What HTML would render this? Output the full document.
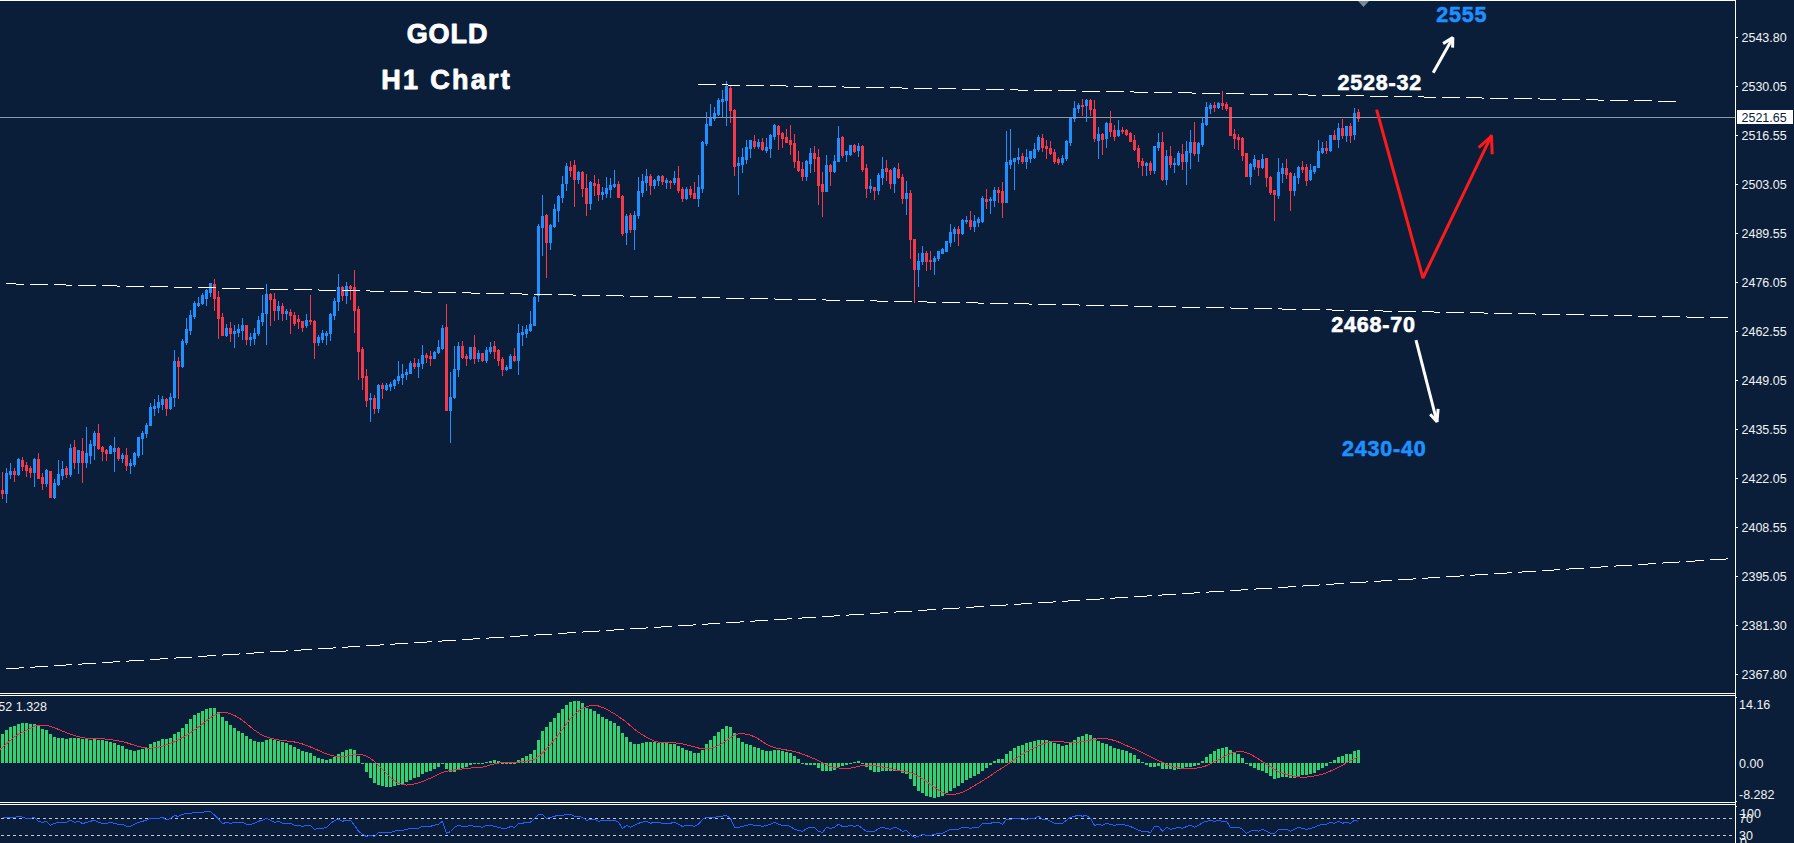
<!DOCTYPE html>
<html><head><meta charset="utf-8"><title>GOLD H1 Chart</title>
<style>
html,body{margin:0;padding:0;background:#0a1e3a;width:1794px;height:843px;overflow:hidden}
svg text{font-family:"Liberation Sans",sans-serif}
</style></head><body>
<svg width="1794" height="843" viewBox="0 0 1794 843" style="display:block">
<rect x="0" y="0" width="1794" height="843" fill="#0a1e3a"/>
<path fill="#1e90ff" d="M6 468h1v5h-1zM6 494h1v9h-1zM5 473h3v21h-3zM10 463h1v8h-1zM10 475h1v4h-1zM9 471h3v4h-3zM18 458h1v1h-1zM18 475h1v1h-1zM17 459h3v16h-3zM34 458h1v1h-1zM34 473h1v14h-1zM33 459h3v14h-3zM46 469h1v1h-1zM46 484h1v3h-1zM45 470h3v14h-3zM54 479h1v4h-1zM54 498h1v1h-1zM53 483h3v15h-3zM58 460h1v14h-1zM58 485h1v1h-1zM57 474h3v11h-3zM62 461h1v8h-1zM62 476h1v4h-1zM61 469h3v7h-3zM70 444h1v4h-1zM70 475h1v2h-1zM69 448h3v27h-3zM78 463h1v11h-1zM77 450h3v13h-3zM86 427h1v26h-1zM86 463h1v5h-1zM85 453h3v10h-3zM90 440h1v4h-1zM90 456h1v8h-1zM89 444h3v12h-3zM94 431h1v2h-1zM94 446h1v14h-1zM93 433h3v13h-3zM110 445h1v1h-1zM109 446h3v8h-3zM114 437h1v11h-1zM114 452h1v20h-1zM113 448h3v4h-3zM122 453h1v2h-1zM122 459h1v4h-1zM121 455h3v4h-3zM130 459h1v4h-1zM130 466h1v8h-1zM129 463h3v3h-3zM134 452h1v1h-1zM134 465h1v2h-1zM133 453h3v12h-3zM138 456h1v2h-1zM137 437h3v19h-3zM142 431h1v2h-1zM142 439h1v16h-1zM141 433h3v6h-3zM146 423h1v2h-1zM146 434h1v4h-1zM145 425h3v9h-3zM150 403h1v4h-1zM149 407h3v19h-3zM154 399h1v7h-1zM154 409h1v7h-1zM153 406h3v3h-3zM158 395h1v7h-1zM158 408h1v5h-1zM157 402h3v6h-3zM162 396h1v3h-1zM162 405h1v5h-1zM161 399h3v6h-3zM170 393h1v4h-1zM170 409h1v1h-1zM169 397h3v12h-3zM174 350h1v11h-1zM174 398h1v9h-1zM173 361h3v37h-3zM182 339h1v2h-1zM182 367h1v1h-1zM181 341h3v26h-3zM186 318h1v11h-1zM186 343h1v2h-1zM185 329h3v14h-3zM190 310h1v5h-1zM190 331h1v4h-1zM189 315h3v16h-3zM194 301h1v2h-1zM194 317h1v2h-1zM193 303h3v14h-3zM198 297h1v6h-1zM198 306h1v1h-1zM197 303h3v3h-3zM202 293h1v2h-1zM202 304h1v1h-1zM201 295h3v9h-3zM206 289h1v1h-1zM206 299h1v7h-1zM205 290h3v9h-3zM210 293h1v4h-1zM209 283h3v10h-3zM226 324h1v4h-1zM226 336h1v1h-1zM225 328h3v8h-3zM234 325h1v6h-1zM234 334h1v14h-1zM233 331h3v3h-3zM238 324h1v5h-1zM238 333h1v4h-1zM237 329h3v4h-3zM242 318h1v7h-1zM242 331h1v9h-1zM241 325h3v6h-3zM250 333h1v4h-1zM250 340h1v6h-1zM249 337h3v3h-3zM254 328h1v5h-1zM254 339h1v6h-1zM253 333h3v6h-3zM258 316h1v4h-1zM258 334h1v2h-1zM257 320h3v14h-3zM262 295h1v18h-1zM262 322h1v4h-1zM261 313h3v9h-3zM266 284h1v10h-1zM266 314h1v31h-1zM265 294h3v20h-3zM278 301h1v5h-1zM278 311h1v9h-1zM277 306h3v5h-3zM286 309h1v2h-1zM286 314h1v6h-1zM285 311h3v3h-3zM306 314h1v6h-1zM306 326h1v2h-1zM305 320h3v6h-3zM318 335h1v2h-1zM318 343h1v3h-1zM317 337h3v6h-3zM322 330h1v3h-1zM322 340h1v3h-1zM321 333h3v7h-3zM326 331h1v2h-1zM326 336h1v9h-1zM325 333h3v3h-3zM330 313h1v1h-1zM330 334h1v7h-1zM329 314h3v20h-3zM334 298h1v3h-1zM334 316h1v4h-1zM333 301h3v15h-3zM338 274h1v13h-1zM338 302h1v9h-1zM337 287h3v15h-3zM346 282h1v4h-1zM346 296h1v8h-1zM345 286h3v10h-3zM370 393h1v5h-1zM370 400h1v22h-1zM369 398h3v2h-3zM378 384h1v1h-1zM378 409h1v4h-1zM377 385h3v24h-3zM386 383h1v2h-1zM386 390h1v1h-1zM385 385h3v5h-3zM390 382h1v2h-1zM390 387h1v4h-1zM389 384h3v3h-3zM394 379h1v1h-1zM394 386h1v3h-1zM393 380h3v6h-3zM398 361h1v15h-1zM398 381h1v3h-1zM397 376h3v5h-3zM402 364h1v10h-1zM402 378h1v7h-1zM401 374h3v4h-3zM406 369h1v3h-1zM406 375h1v5h-1zM405 372h3v3h-3zM410 361h1v2h-1zM409 363h3v11h-3zM418 359h1v4h-1zM418 367h1v11h-1zM417 363h3v4h-3zM422 345h1v10h-1zM422 364h1v5h-1zM421 355h3v9h-3zM434 351h1v1h-1zM433 352h3v7h-3zM438 340h1v7h-1zM438 353h1v1h-1zM437 347h3v6h-3zM442 325h1v3h-1zM442 349h1v1h-1zM441 328h3v21h-3zM450 372h1v25h-1zM450 411h1v32h-1zM449 397h3v14h-3zM454 346h1v23h-1zM454 398h1v1h-1zM453 369h3v29h-3zM458 342h1v4h-1zM458 370h1v7h-1zM457 346h3v24h-3zM470 359h1v1h-1zM469 347h3v12h-3zM478 350h1v3h-1zM478 359h1v3h-1zM477 353h3v6h-3zM486 347h1v3h-1zM486 361h1v2h-1zM485 350h3v11h-3zM490 342h1v5h-1zM490 352h1v2h-1zM489 347h3v5h-3zM506 365h1v2h-1zM506 370h1v1h-1zM505 367h3v3h-3zM510 354h1v2h-1zM509 356h3v13h-3zM518 324h1v9h-1zM518 361h1v14h-1zM517 333h3v28h-3zM522 326h1v6h-1zM522 335h1v11h-1zM521 332h3v3h-3zM526 325h1v4h-1zM526 334h1v4h-1zM525 329h3v5h-3zM530 311h1v13h-1zM530 331h1v1h-1zM529 324h3v7h-3zM534 296h1v1h-1zM533 297h3v29h-3zM538 224h1v2h-1zM538 296h1v6h-1zM537 226h3v70h-3zM542 195h1v21h-1zM542 228h1v28h-1zM541 216h3v12h-3zM550 224h1v1h-1zM550 243h1v7h-1zM549 225h3v18h-3zM554 204h1v5h-1zM554 227h1v1h-1zM553 209h3v18h-3zM558 195h1v1h-1zM558 211h1v11h-1zM557 196h3v15h-3zM562 176h1v8h-1zM562 198h1v5h-1zM561 184h3v14h-3zM566 163h1v3h-1zM566 184h1v7h-1zM565 166h3v18h-3zM578 171h1v1h-1zM578 180h1v4h-1zM577 172h3v8h-3zM590 181h1v1h-1zM590 204h1v6h-1zM589 182h3v22h-3zM602 187h1v5h-1zM602 195h1v5h-1zM601 192h3v3h-3zM606 177h1v11h-1zM606 194h1v4h-1zM605 188h3v6h-3zM610 178h1v7h-1zM610 190h1v8h-1zM609 185h3v5h-3zM614 170h1v14h-1zM614 187h1v1h-1zM613 184h3v3h-3zM626 214h1v2h-1zM626 233h1v12h-1zM625 216h3v17h-3zM634 211h1v4h-1zM634 230h1v20h-1zM633 215h3v15h-3zM638 177h1v14h-1zM638 216h1v3h-1zM637 191h3v25h-3zM642 174h1v7h-1zM642 193h1v4h-1zM641 181h3v12h-3zM646 169h1v7h-1zM646 183h1v8h-1zM645 176h3v7h-3zM654 179h1v1h-1zM654 186h1v3h-1zM653 180h3v6h-3zM658 175h1v1h-1zM658 181h1v5h-1zM657 176h3v5h-3zM666 178h1v2h-1zM666 183h1v6h-1zM665 180h3v3h-3zM674 171h1v7h-1zM674 183h1v2h-1zM673 178h3v5h-3zM686 187h1v2h-1zM686 199h1v1h-1zM685 189h3v10h-3zM698 175h1v12h-1zM698 199h1v8h-1zM697 187h3v12h-3zM702 141h1v1h-1zM702 189h1v4h-1zM701 142h3v47h-3zM706 112h1v12h-1zM706 144h1v2h-1zM705 124h3v20h-3zM710 104h1v13h-1zM709 117h3v9h-3zM714 107h1v6h-1zM714 119h1v2h-1zM713 113h3v6h-3zM718 98h1v2h-1zM718 115h1v1h-1zM717 100h3v15h-3zM722 90h1v9h-1zM722 102h1v16h-1zM721 99h3v3h-3zM726 81h1v5h-1zM726 101h1v25h-1zM725 86h3v15h-3zM738 157h1v6h-1zM738 166h1v29h-1zM737 163h3v3h-3zM742 148h1v9h-1zM742 165h1v8h-1zM741 157h3v8h-3zM746 140h1v7h-1zM746 160h1v4h-1zM745 147h3v13h-3zM750 149h1v9h-1zM749 140h3v9h-3zM758 139h1v3h-1zM758 147h1v2h-1zM757 142h3v5h-3zM766 138h1v9h-1zM766 151h1v2h-1zM765 147h3v4h-3zM770 134h1v1h-1zM770 149h1v9h-1zM769 135h3v14h-3zM774 124h1v1h-1zM774 137h1v3h-1zM773 125h3v12h-3zM806 160h1v1h-1zM806 177h1v4h-1zM805 161h3v16h-3zM810 148h1v5h-1zM810 164h1v9h-1zM809 153h3v11h-3zM826 155h1v10h-1zM825 165h3v27h-3zM834 155h1v6h-1zM834 172h1v1h-1zM833 161h3v11h-3zM838 126h1v12h-1zM837 138h3v24h-3zM846 155h1v7h-1zM845 151h3v4h-3zM850 155h1v1h-1zM849 145h3v10h-3zM858 143h1v3h-1zM858 151h1v6h-1zM857 146h3v5h-3zM870 179h1v7h-1zM870 189h1v4h-1zM869 186h3v3h-3zM878 173h1v2h-1zM878 191h1v4h-1zM877 175h3v16h-3zM882 157h1v12h-1zM882 178h1v7h-1zM881 169h3v9h-3zM894 167h1v1h-1zM894 184h1v9h-1zM893 168h3v16h-3zM906 181h1v12h-1zM906 199h1v16h-1zM905 193h3v6h-3zM918 253h1v8h-1zM918 270h1v17h-1zM917 261h3v9h-3zM922 246h1v7h-1zM922 262h1v3h-1zM921 253h3v9h-3zM934 256h1v2h-1zM934 262h1v13h-1zM933 258h3v4h-3zM938 259h1v2h-1zM937 251h3v8h-3zM942 248h1v1h-1zM941 249h3v5h-3zM945 241h3v11h-3zM950 224h1v8h-1zM950 243h1v4h-1zM949 232h3v11h-3zM954 227h1v2h-1zM954 234h1v8h-1zM953 229h3v5h-3zM962 219h1v1h-1zM962 234h1v1h-1zM961 220h3v14h-3zM966 216h1v4h-1zM966 222h1v2h-1zM965 220h3v2h-3zM974 215h1v6h-1zM974 227h1v5h-1zM973 221h3v6h-3zM978 217h1v2h-1zM978 223h1v4h-1zM977 219h3v4h-3zM982 196h1v2h-1zM982 222h1v1h-1zM981 198h3v24h-3zM990 197h1v2h-1zM990 201h1v13h-1zM989 199h3v2h-3zM994 187h1v3h-1zM994 201h1v6h-1zM993 190h3v11h-3zM1006 131h1v31h-1zM1005 162h3v41h-3zM1010 129h1v31h-1zM1010 165h1v4h-1zM1009 160h3v5h-3zM1014 162h1v28h-1zM1013 158h3v4h-3zM1018 148h1v9h-1zM1018 160h1v4h-1zM1017 157h3v3h-3zM1026 149h1v8h-1zM1026 162h1v7h-1zM1025 157h3v5h-3zM1030 159h1v4h-1zM1029 151h3v8h-3zM1034 143h1v6h-1zM1034 158h1v1h-1zM1033 149h3v9h-3zM1038 135h1v2h-1zM1038 150h1v2h-1zM1037 137h3v13h-3zM1062 155h1v3h-1zM1062 163h1v2h-1zM1061 158h3v5h-3zM1066 140h1v1h-1zM1066 159h1v2h-1zM1065 141h3v18h-3zM1070 117h1v1h-1zM1070 143h1v3h-1zM1069 118h3v25h-3zM1074 101h1v7h-1zM1074 119h1v3h-1zM1073 108h3v11h-3zM1078 103h1v2h-1zM1078 109h1v4h-1zM1077 105h3v4h-3zM1086 99h1v1h-1zM1086 106h1v16h-1zM1085 100h3v6h-3zM1098 127h1v7h-1zM1098 141h1v18h-1zM1097 134h3v7h-3zM1106 122h1v1h-1zM1106 139h1v9h-1zM1105 123h3v16h-3zM1118 120h1v10h-1zM1118 136h1v1h-1zM1117 130h3v6h-3zM1146 162h1v1h-1zM1146 166h1v10h-1zM1145 163h3v3h-3zM1154 171h1v3h-1zM1153 146h3v25h-3zM1158 133h1v9h-1zM1158 148h1v3h-1zM1157 142h3v6h-3zM1166 150h1v6h-1zM1166 180h1v5h-1zM1165 156h3v24h-3zM1174 158h1v5h-1zM1174 165h1v8h-1zM1173 163h3v2h-3zM1178 151h1v2h-1zM1178 165h1v1h-1zM1177 153h3v12h-3zM1186 141h1v10h-1zM1186 162h1v23h-1zM1185 151h3v11h-3zM1190 130h1v12h-1zM1190 153h1v16h-1zM1189 142h3v11h-3zM1198 142h1v1h-1zM1198 154h1v8h-1zM1197 143h3v11h-3zM1202 117h1v6h-1zM1202 145h1v2h-1zM1201 123h3v22h-3zM1206 102h1v5h-1zM1206 125h1v1h-1zM1205 107h3v18h-3zM1210 103h1v2h-1zM1210 109h1v5h-1zM1209 105h3v4h-3zM1218 102h1v1h-1zM1218 108h1v1h-1zM1217 103h3v5h-3zM1250 163h1v1h-1zM1250 177h1v8h-1zM1249 164h3v13h-3zM1254 155h1v4h-1zM1254 167h1v3h-1zM1253 159h3v8h-3zM1262 154h1v5h-1zM1262 168h1v1h-1zM1261 159h3v9h-3zM1278 158h1v14h-1zM1278 196h1v3h-1zM1277 172h3v24h-3zM1282 163h1v5h-1zM1282 174h1v9h-1zM1281 168h3v6h-3zM1294 173h1v3h-1zM1294 191h1v5h-1zM1293 176h3v15h-3zM1298 166h1v1h-1zM1298 178h1v6h-1zM1297 167h3v11h-3zM1310 164h1v6h-1zM1310 180h1v1h-1zM1309 170h3v10h-3zM1314 172h1v2h-1zM1313 166h3v6h-3zM1318 140h1v11h-1zM1317 151h3v17h-3zM1322 142h1v6h-1zM1322 153h1v1h-1zM1321 148h3v5h-3zM1330 151h1v1h-1zM1329 135h3v16h-3zM1338 123h1v5h-1zM1338 140h1v8h-1zM1337 128h3v12h-3zM1346 136h1v6h-1zM1345 126h3v10h-3zM1354 108h1v5h-1zM1354 135h1v5h-1zM1353 113h3v22h-3z"/>
<path fill="#f43a4a" d="M2 472h1v18h-1zM2 494h1v5h-1zM1 490h3v4h-3zM14 468h1v3h-1zM14 475h1v7h-1zM13 471h3v4h-3zM22 457h1v3h-1zM22 467h1v4h-1zM21 460h3v7h-3zM26 462h1v3h-1zM26 471h1v6h-1zM25 465h3v6h-3zM30 466h1v2h-1zM30 473h1v5h-1zM29 468h3v5h-3zM38 453h1v6h-1zM37 459h3v20h-3zM42 473h1v4h-1zM42 484h1v6h-1zM41 477h3v7h-3zM49 471h3v27h-3zM66 466h1v2h-1zM66 475h1v3h-1zM65 468h3v7h-3zM74 440h1v7h-1zM74 463h1v6h-1zM73 447h3v16h-3zM82 438h1v13h-1zM82 463h1v20h-1zM81 451h3v12h-3zM98 424h1v9h-1zM98 449h1v1h-1zM97 433h3v16h-3zM102 446h1v1h-1zM102 452h1v9h-1zM101 447h3v5h-3zM106 449h1v1h-1zM106 454h1v7h-1zM105 450h3v4h-3zM118 447h1v1h-1zM118 459h1v2h-1zM117 448h3v11h-3zM126 448h1v7h-1zM126 466h1v5h-1zM125 455h3v11h-3zM166 398h1v1h-1zM166 409h1v7h-1zM165 399h3v10h-3zM178 357h1v4h-1zM178 367h1v32h-1zM177 361h3v6h-3zM214 279h1v5h-1zM214 299h1v12h-1zM213 284h3v15h-3zM218 291h1v6h-1zM218 319h1v20h-1zM217 297h3v22h-3zM222 313h1v4h-1zM221 317h3v19h-3zM230 322h1v6h-1zM230 334h1v8h-1zM229 328h3v6h-3zM246 340h1v5h-1zM245 325h3v15h-3zM270 293h1v1h-1zM270 300h1v26h-1zM269 294h3v6h-3zM274 293h1v6h-1zM274 311h1v10h-1zM273 299h3v12h-3zM282 303h1v3h-1zM282 314h1v7h-1zM281 306h3v8h-3zM290 309h1v3h-1zM290 316h1v18h-1zM289 312h3v4h-3zM294 312h1v3h-1zM294 324h1v2h-1zM293 315h3v9h-3zM298 315h1v4h-1zM298 322h1v7h-1zM297 319h3v3h-3zM302 328h1v4h-1zM301 321h3v7h-3zM310 295h1v25h-1zM310 322h1v3h-1zM309 320h3v2h-3zM314 320h1v1h-1zM314 343h1v16h-1zM313 321h3v22h-3zM342 286h1v1h-1zM342 296h1v5h-1zM341 287h3v9h-3zM350 285h1v1h-1zM350 289h1v11h-1zM349 286h3v3h-3zM354 270h1v17h-1zM354 311h1v22h-1zM353 287h3v24h-3zM358 306h1v3h-1zM358 352h1v28h-1zM357 309h3v43h-3zM362 347h1v2h-1zM362 378h1v12h-1zM361 349h3v29h-3zM366 369h1v7h-1zM366 401h1v6h-1zM365 376h3v25h-3zM374 395h1v3h-1zM374 409h1v5h-1zM373 398h3v11h-3zM382 383h1v2h-1zM382 389h1v10h-1zM381 385h3v4h-3zM414 358h1v5h-1zM414 367h1v2h-1zM413 363h3v4h-3zM426 353h1v2h-1zM426 358h1v5h-1zM425 355h3v3h-3zM430 351h1v5h-1zM430 359h1v7h-1zM429 356h3v3h-3zM446 304h1v23h-1zM445 327h3v84h-3zM462 341h1v5h-1zM462 358h1v1h-1zM461 346h3v12h-3zM466 354h1v2h-1zM466 359h1v7h-1zM465 356h3v3h-3zM474 335h1v12h-1zM474 359h1v5h-1zM473 347h3v12h-3zM482 361h1v1h-1zM481 353h3v8h-3zM494 341h1v5h-1zM494 352h1v7h-1zM493 346h3v6h-3zM498 349h1v1h-1zM498 361h1v5h-1zM497 350h3v11h-3zM502 357h1v2h-1zM502 370h1v6h-1zM501 359h3v11h-3zM514 348h1v8h-1zM514 361h1v1h-1zM513 356h3v5h-3zM546 214h1v1h-1zM546 243h1v35h-1zM545 215h3v28h-3zM570 161h1v6h-1zM570 171h1v6h-1zM569 167h3v4h-3zM574 160h1v5h-1zM574 180h1v27h-1zM573 165h3v15h-3zM582 171h1v1h-1zM582 189h1v8h-1zM581 172h3v17h-3zM586 174h1v14h-1zM586 204h1v12h-1zM585 188h3v16h-3zM594 175h1v8h-1zM594 186h1v10h-1zM593 183h3v3h-3zM598 179h1v5h-1zM598 195h1v6h-1zM597 184h3v11h-3zM618 181h1v3h-1zM617 184h3v14h-3zM622 195h1v1h-1zM622 234h1v2h-1zM621 196h3v38h-3zM630 213h1v2h-1zM630 230h1v3h-1zM629 215h3v15h-3zM650 174h1v2h-1zM650 186h1v9h-1zM649 176h3v10h-3zM662 175h1v1h-1zM662 182h1v3h-1zM661 176h3v6h-3zM670 180h1v1h-1zM670 183h1v6h-1zM669 181h3v2h-3zM678 166h1v12h-1zM678 191h1v2h-1zM677 178h3v13h-3zM682 187h1v2h-1zM682 199h1v3h-1zM681 189h3v10h-3zM690 186h1v3h-1zM690 195h1v3h-1zM689 189h3v6h-3zM694 182h1v11h-1zM693 193h3v6h-3zM730 86h1v2h-1zM730 111h1v12h-1zM729 88h3v23h-3zM734 109h1v1h-1zM734 167h1v9h-1zM733 110h3v57h-3zM754 135h1v6h-1zM754 147h1v2h-1zM753 141h3v6h-3zM762 138h1v4h-1zM762 150h1v1h-1zM761 142h3v8h-3zM778 125h1v1h-1zM778 135h1v15h-1zM777 126h3v9h-3zM782 132h1v1h-1zM782 139h1v9h-1zM781 133h3v6h-3zM786 129h1v8h-1zM785 137h3v6h-3zM790 125h1v15h-1zM790 145h1v10h-1zM789 140h3v5h-3zM794 134h1v9h-1zM794 162h1v6h-1zM793 143h3v19h-3zM798 151h1v10h-1zM798 171h1v1h-1zM797 161h3v10h-3zM802 162h1v7h-1zM802 177h1v4h-1zM801 169h3v8h-3zM814 146h1v7h-1zM814 159h1v13h-1zM813 153h3v6h-3zM818 149h1v8h-1zM818 186h1v19h-1zM817 157h3v29h-3zM822 172h1v12h-1zM822 192h1v25h-1zM821 184h3v8h-3zM830 164h1v1h-1zM830 172h1v14h-1zM829 165h3v7h-3zM842 136h1v1h-1zM842 156h1v2h-1zM841 137h3v19h-3zM854 144h1v1h-1zM854 152h1v1h-1zM853 145h3v7h-3zM862 145h1v1h-1zM862 170h1v2h-1zM861 146h3v24h-3zM866 164h1v4h-1zM866 189h1v9h-1zM865 168h3v21h-3zM874 191h1v9h-1zM873 187h3v4h-3zM886 160h1v8h-1zM886 172h1v9h-1zM885 168h3v4h-3zM890 169h1v1h-1zM890 184h1v5h-1zM889 170h3v14h-3zM898 163h1v6h-1zM898 178h1v1h-1zM897 169h3v9h-3zM902 174h1v3h-1zM902 199h1v5h-1zM901 177h3v22h-3zM910 190h1v3h-1zM910 240h1v19h-1zM909 193h3v47h-3zM914 270h1v33h-1zM913 239h3v31h-3zM926 251h1v2h-1zM926 262h1v9h-1zM925 253h3v9h-3zM930 251h1v9h-1zM930 262h1v8h-1zM929 260h3v2h-3zM958 226h1v3h-1zM958 234h1v12h-1zM957 229h3v5h-3zM970 211h1v9h-1zM970 227h1v3h-1zM969 220h3v7h-3zM986 189h1v10h-1zM986 202h1v7h-1zM985 199h3v3h-3zM998 187h1v3h-1zM998 193h1v10h-1zM997 190h3v3h-3zM1002 182h1v9h-1zM1002 203h1v15h-1zM1001 191h3v12h-3zM1022 153h1v3h-1zM1022 162h1v2h-1zM1021 156h3v6h-3zM1042 134h1v4h-1zM1042 148h1v4h-1zM1041 138h3v10h-3zM1046 140h1v6h-1zM1046 149h1v10h-1zM1045 146h3v3h-3zM1050 141h1v7h-1zM1050 154h1v1h-1zM1049 148h3v6h-3zM1054 149h1v3h-1zM1054 162h1v2h-1zM1053 152h3v10h-3zM1058 157h1v2h-1zM1058 163h1v2h-1zM1057 159h3v4h-3zM1082 99h1v6h-1zM1082 107h1v9h-1zM1081 105h3v2h-3zM1090 99h1v1h-1zM1090 110h1v6h-1zM1089 100h3v10h-3zM1094 100h1v9h-1zM1094 139h1v3h-1zM1093 109h3v30h-3zM1102 133h1v1h-1zM1102 140h1v15h-1zM1101 134h3v6h-3zM1110 111h1v12h-1zM1110 132h1v5h-1zM1109 123h3v9h-3zM1114 125h1v5h-1zM1114 137h1v4h-1zM1113 130h3v7h-3zM1122 127h1v3h-1zM1122 132h1v2h-1zM1121 130h3v2h-3zM1126 129h1v1h-1zM1126 135h1v1h-1zM1125 130h3v5h-3zM1130 132h1v1h-1zM1129 133h3v9h-3zM1134 135h1v5h-1zM1134 150h1v1h-1zM1133 140h3v10h-3zM1138 145h1v3h-1zM1138 162h1v6h-1zM1137 148h3v14h-3zM1142 158h1v3h-1zM1142 166h1v10h-1zM1141 161h3v5h-3zM1150 161h1v2h-1zM1150 171h1v4h-1zM1149 163h3v8h-3zM1162 132h1v10h-1zM1162 180h1v1h-1zM1161 142h3v38h-3zM1170 146h1v10h-1zM1170 165h1v3h-1zM1169 156h3v9h-3zM1182 144h1v10h-1zM1182 162h1v8h-1zM1181 154h3v8h-3zM1194 122h1v20h-1zM1194 154h1v2h-1zM1193 142h3v12h-3zM1214 102h1v3h-1zM1214 108h1v4h-1zM1213 105h3v3h-3zM1222 91h1v12h-1zM1222 106h1v4h-1zM1221 103h3v3h-3zM1226 102h1v2h-1zM1226 109h1v2h-1zM1225 104h3v5h-3zM1229 107h3v29h-3zM1234 129h1v5h-1zM1234 139h1v10h-1zM1233 134h3v5h-3zM1238 134h1v3h-1zM1238 140h1v10h-1zM1237 137h3v3h-3zM1242 137h1v1h-1zM1242 156h1v5h-1zM1241 138h3v18h-3zM1245 153h3v24h-3zM1258 168h1v8h-1zM1257 160h3v8h-3zM1266 178h1v9h-1zM1265 158h3v20h-3zM1270 176h1v1h-1zM1270 193h1v2h-1zM1269 177h3v16h-3zM1274 195h1v26h-1zM1273 190h3v5h-3zM1286 159h1v9h-1zM1286 175h1v4h-1zM1285 168h3v7h-3zM1290 172h1v1h-1zM1290 191h1v20h-1zM1289 173h3v18h-3zM1302 161h1v6h-1zM1302 170h1v3h-1zM1301 167h3v3h-3zM1306 164h1v3h-1zM1306 181h1v5h-1zM1305 167h3v14h-3zM1326 141h1v7h-1zM1326 151h1v3h-1zM1325 148h3v3h-3zM1334 130h1v5h-1zM1333 135h3v5h-3zM1342 119h1v9h-1zM1342 136h1v3h-1zM1341 128h3v8h-3zM1350 123h1v3h-1zM1350 136h1v7h-1zM1349 126h3v10h-3zM1358 109h1v3h-1zM1358 119h1v3h-1zM1357 112h3v7h-3z"/>
<g fill="#ffffff" shape-rendering="crispEdges">
<rect x="0" y="0" width="1735" height="1"/>
<rect x="1735" y="0" width="1" height="843"/>
<rect x="0" y="693" width="1735" height="1"/>
<rect x="0" y="695" width="1735" height="1"/>
<rect x="0" y="802" width="1735" height="1"/>
<rect x="0" y="804" width="1735" height="1"/>
<rect x="1736" y="37" width="2" height="1"/>
<rect x="1736" y="86" width="2" height="1"/>
<rect x="1736" y="135" width="2" height="1"/>
<rect x="1736" y="184" width="2" height="1"/>
<rect x="1736" y="233" width="2" height="1"/>
<rect x="1736" y="282" width="2" height="1"/>
<rect x="1736" y="331" width="2" height="1"/>
<rect x="1736" y="380" width="2" height="1"/>
<rect x="1736" y="429" width="2" height="1"/>
<rect x="1736" y="478" width="2" height="1"/>
<rect x="1736" y="527" width="2" height="1"/>
<rect x="1736" y="576" width="2" height="1"/>
<rect x="1736" y="625" width="2" height="1"/>
<rect x="1736" y="674" width="2" height="1"/>
<rect x="1736" y="697" width="1" height="1"/>
<rect x="1736" y="801" width="1" height="1"/>
<rect x="1736" y="806" width="1" height="1"/>
</g>
<rect x="0" y="117" width="1735" height="1" fill="#8d9aab" shape-rendering="crispEdges"/>
<path d="M1358 1 L1369 1 L1363.5 7 Z" fill="#7a8899"/>
<path fill="#ffffff" shape-rendering="crispEdges" d="M698 84h18v1h-18zM722 84h6v1h-6zM728 85h12v1h-12zM746 85h18v1h-18zM770 85h16v1h-16zM786 86h2v1h-2zM794 86h18v1h-18zM818 86h18v1h-18zM842 86h2v1h-2zM844 87h16v1h-16zM866 87h18v1h-18zM890 87h12v1h-12zM902 88h6v1h-6zM914 88h18v1h-18zM938 88h18v1h-18zM962 89h18v1h-18zM986 89h18v1h-18zM1010 89h8v1h-8zM1018 90h10v1h-10zM1034 90h18v1h-18zM1058 90h18v1h-18zM1082 91h18v1h-18zM1106 91h18v1h-18zM1130 91h4v1h-4zM1134 92h14v1h-14zM1154 92h18v1h-18zM1178 92h14v1h-14zM1192 93h4v1h-4zM1202 93h18v1h-18zM1226 93h18v1h-18zM1250 94h18v1h-18zM1274 94h18v1h-18zM1298 94h10v1h-10zM1308 95h8v1h-8zM1322 95h18v1h-18zM1346 95h18v1h-18zM1370 96h18v1h-18zM1394 96h18v1h-18zM1418 96h6v1h-6zM1424 97h12v1h-12zM1442 97h18v1h-18zM1466 97h16v1h-16zM1482 98h2v1h-2zM1490 98h18v1h-18zM1514 98h18v1h-18zM1538 98h2v1h-2zM1540 99h16v1h-16zM1562 99h18v1h-18zM1586 99h12v1h-12zM1598 100h6v1h-6zM1610 100h18v1h-18zM1634 100h18v1h-18zM1658 101h18v1h-18zM6 283h10v1h-10zM16 284h8v1h-8zM30 284h18v1h-18zM54 284h12v1h-12zM66 285h6v1h-6zM78 285h18v1h-18zM102 285h15v1h-15zM117 286h3v1h-3zM126 286h18v1h-18zM150 286h18v1h-18zM174 287h18v1h-18zM198 287h18v1h-18zM222 288h18v1h-18zM246 288h18v1h-18zM270 289h18v1h-18zM294 289h18v1h-18zM318 289h1v1h-1zM319 290h17v1h-17zM342 290h18v1h-18zM366 290h4v1h-4zM370 291h14v1h-14zM390 291h18v1h-18zM414 291h7v1h-7zM421 292h11v1h-11zM438 292h18v1h-18zM462 292h9v1h-9zM471 293h9v1h-9zM486 293h18v1h-18zM510 293h12v1h-12zM522 294h6v1h-6zM534 294h18v1h-18zM558 294h15v1h-15zM573 295h3v1h-3zM582 295h18v1h-18zM606 295h17v1h-17zM623 296h1v1h-1zM630 296h18v1h-18zM654 296h18v1h-18zM678 297h18v1h-18zM702 297h18v1h-18zM726 298h18v1h-18zM750 298h18v1h-18zM774 298h1v1h-1zM775 299h17v1h-17zM798 299h18v1h-18zM822 299h4v1h-4zM826 300h14v1h-14zM846 300h18v1h-18zM870 300h7v1h-7zM877 301h11v1h-11zM894 301h18v1h-18zM918 301h9v1h-9zM927 302h9v1h-9zM942 302h18v1h-18zM966 302h12v1h-12zM978 303h6v1h-6zM990 303h18v1h-18zM1014 303h15v1h-15zM1029 304h3v1h-3zM1038 304h18v1h-18zM1062 304h17v1h-17zM1079 305h1v1h-1zM1086 305h18v1h-18zM1110 305h18v1h-18zM1134 306h18v1h-18zM1158 306h18v1h-18zM1182 307h18v1h-18zM1206 307h18v1h-18zM1230 307h1v1h-1zM1231 308h17v1h-17zM1254 308h18v1h-18zM1278 308h4v1h-4zM1282 309h14v1h-14zM1302 309h18v1h-18zM1326 309h6v1h-6zM1332 310h12v1h-12zM1350 310h18v1h-18zM1374 310h9v1h-9zM1383 311h9v1h-9zM1398 311h18v1h-18zM1422 311h12v1h-12zM1434 312h6v1h-6zM1446 312h18v1h-18zM1470 312h14v1h-14zM1484 313h4v1h-4zM1494 313h18v1h-18zM1518 313h17v1h-17zM1535 314h1v1h-1zM1542 314h18v1h-18zM1566 314h18v1h-18zM1590 315h18v1h-18zM1614 315h18v1h-18zM1638 316h18v1h-18zM1662 316h18v1h-18zM1686 316h1v1h-1zM1687 317h17v1h-17zM1710 317h18v1h-18zM6 668h13v1h-13zM19 667h5v1h-5zM30 667h5v1h-5zM35 666h13v1h-13zM54 665h12v1h-12zM66 664h6v1h-6zM78 664h4v1h-4zM82 663h14v1h-14zM102 662h11v1h-11zM113 661h7v1h-7zM126 661h3v1h-3zM129 660h15v1h-15zM150 659h10v1h-10zM160 658h8v1h-8zM174 658h2v1h-2zM176 657h16v1h-16zM198 656h9v1h-9zM207 655h9v1h-9zM222 655h1v1h-1zM223 654h16v1h-16zM239 653h1v1h-1zM246 653h8v1h-8zM254 652h10v1h-10zM270 651h16v1h-16zM286 650h2v1h-2zM294 650h7v1h-7zM301 649h11v1h-11zM318 648h15v1h-15zM333 647h3v1h-3zM342 647h6v1h-6zM348 646h12v1h-12zM366 645h14v1h-14zM380 644h4v1h-4zM390 644h5v1h-5zM395 643h13v1h-13zM414 642h13v1h-13zM427 641h5v1h-5zM438 641h4v1h-4zM442 640h14v1h-14zM462 639h11v1h-11zM473 638h7v1h-7zM486 638h3v1h-3zM489 637h15v1h-15zM510 636h10v1h-10zM520 635h8v1h-8zM534 635h2v1h-2zM536 634h16v1h-16zM558 633h9v1h-9zM567 632h9v1h-9zM582 632h1v1h-1zM583 631h16v1h-16zM599 630h1v1h-1zM606 630h8v1h-8zM614 629h10v1h-10zM630 628h16v1h-16zM646 627h2v1h-2zM654 627h7v1h-7zM661 626h11v1h-11zM678 625h15v1h-15zM693 624h3v1h-3zM702 624h6v1h-6zM708 623h12v1h-12zM726 622h14v1h-14zM740 621h4v1h-4zM750 621h5v1h-5zM755 620h13v1h-13zM774 619h13v1h-13zM787 618h5v1h-5zM798 618h4v1h-4zM802 617h14v1h-14zM822 616h12v1h-12zM834 615h6v1h-6zM846 615h3v1h-3zM849 614h15v1h-15zM870 613h10v1h-10zM880 612h8v1h-8zM894 612h2v1h-2zM896 611h16v1h-16zM918 610h9v1h-9zM927 609h9v1h-9zM942 609h1v1h-1zM943 608h16v1h-16zM959 607h1v1h-1zM966 607h8v1h-8zM974 606h10v1h-10zM990 605h16v1h-16zM1006 604h2v1h-2zM1014 604h7v1h-7zM1021 603h11v1h-11zM1038 602h15v1h-15zM1053 601h3v1h-3zM1062 601h6v1h-6zM1068 600h12v1h-12zM1086 599h14v1h-14zM1100 598h4v1h-4zM1110 598h5v1h-5zM1115 597h13v1h-13zM1134 596h13v1h-13zM1147 595h5v1h-5zM1158 595h4v1h-4zM1162 594h14v1h-14zM1182 593h12v1h-12zM1194 592h6v1h-6zM1206 592h3v1h-3zM1209 591h15v1h-15zM1230 590h11v1h-11zM1241 589h7v1h-7zM1254 589h2v1h-2zM1256 588h16v1h-16zM1278 587h10v1h-10zM1288 586h8v1h-8zM1302 586h1v1h-1zM1303 585h16v1h-16zM1319 584h1v1h-1zM1326 584h8v1h-8zM1334 583h10v1h-10zM1350 582h16v1h-16zM1366 581h2v1h-2zM1374 581h7v1h-7zM1381 580h11v1h-11zM1398 579h15v1h-15zM1413 578h3v1h-3zM1422 578h6v1h-6zM1428 577h12v1h-12zM1446 576h14v1h-14zM1460 575h4v1h-4zM1470 575h5v1h-5zM1475 574h13v1h-13zM1494 573h13v1h-13zM1507 572h5v1h-5zM1518 572h4v1h-4zM1522 571h14v1h-14zM1542 570h12v1h-12zM1554 569h6v1h-6zM1566 569h3v1h-3zM1569 568h15v1h-15zM1590 567h11v1h-11zM1601 566h7v1h-7zM1614 566h2v1h-2zM1616 565h16v1h-16zM1638 564h10v1h-10zM1648 563h8v1h-8zM1662 563h1v1h-1zM1663 562h16v1h-16zM1679 561h1v1h-1zM1686 561h9v1h-9zM1695 560h9v1h-9zM1710 559h16v1h-16zM1726 558h2v1h-2z"/>
<g fill="#f2f2f2" font-size="12.5px">
<text x="1741.5" y="42">2543.80</text>
<text x="1741.5" y="91">2530.05</text>
<text x="1741.5" y="140">2516.55</text>
<text x="1741.5" y="189">2503.05</text>
<text x="1741.5" y="238">2489.55</text>
<text x="1741.5" y="287">2476.05</text>
<text x="1741.5" y="336">2462.55</text>
<text x="1741.5" y="385">2449.05</text>
<text x="1741.5" y="434">2435.55</text>
<text x="1741.5" y="483">2422.05</text>
<text x="1741.5" y="532">2408.55</text>
<text x="1741.5" y="581">2395.05</text>
<text x="1741.5" y="630">2381.30</text>
<text x="1741.5" y="679">2367.80</text>
</g>
<rect x="1737" y="110" width="56" height="14" fill="#ffffff"/>
<text x="1741.5" y="122" font-size="12.5px" fill="#0a1e3a">2521.65</text>
<path fill="#32d06e" shape-rendering="crispEdges" d="M1 734h3v29h-3zM5 730h3v33h-3zM9 727h3v36h-3zM13 726h3v37h-3zM17 724h3v39h-3zM21 723h3v40h-3zM25 723h3v40h-3zM29 724h3v39h-3zM33 724h3v39h-3zM37 726h3v37h-3zM41 729h3v34h-3zM45 730h3v33h-3zM49 734h3v29h-3zM53 737h3v26h-3zM57 738h3v25h-3zM61 738h3v25h-3zM65 739h3v24h-3zM69 738h3v25h-3zM73 738h3v25h-3zM77 738h3v25h-3zM81 739h3v24h-3zM85 739h3v24h-3zM89 740h3v23h-3zM93 738h3v25h-3zM97 740h3v23h-3zM101 740h3v23h-3zM105 741h3v22h-3zM109 742h3v21h-3zM113 743h3v20h-3zM117 745h3v18h-3zM121 746h3v17h-3zM125 749h3v14h-3zM129 750h3v13h-3zM133 751h3v12h-3zM137 750h3v13h-3zM141 749h3v14h-3zM145 748h3v15h-3zM149 744h3v19h-3zM153 742h3v21h-3zM157 741h3v22h-3zM161 739h3v24h-3zM165 739h3v24h-3zM169 738h3v25h-3zM173 734h3v29h-3zM177 732h3v31h-3zM181 728h3v35h-3zM185 724h3v39h-3zM189 719h3v44h-3zM193 715h3v48h-3zM197 713h3v50h-3zM201 711h3v52h-3zM205 709h3v54h-3zM209 708h3v55h-3zM213 708h3v55h-3zM217 712h3v51h-3zM221 717h3v46h-3zM225 721h3v42h-3zM229 725h3v38h-3zM233 728h3v35h-3zM237 731h3v32h-3zM241 733h3v30h-3zM245 736h3v27h-3zM249 739h3v24h-3zM253 741h3v22h-3zM257 742h3v21h-3zM261 742h3v21h-3zM265 740h3v23h-3zM269 739h3v24h-3zM273 740h3v23h-3zM277 741h3v22h-3zM281 742h3v21h-3zM285 743h3v20h-3zM289 745h3v18h-3zM293 747h3v16h-3zM297 749h3v14h-3zM301 751h3v12h-3zM305 752h3v11h-3zM309 753h3v10h-3zM313 756h3v7h-3zM317 758h3v5h-3zM321 759h3v4h-3zM325 760h3v3h-3zM329 759h3v4h-3zM333 757h3v6h-3zM337 754h3v9h-3zM341 752h3v11h-3zM345 750h3v13h-3zM349 749h3v14h-3zM353 750h3v13h-3zM357 756h3v7h-3zM361 763h3v1h-3zM365 763h3v9h-3zM369 763h3v15h-3zM373 763h3v20h-3zM377 763h3v22h-3zM381 763h3v23h-3zM385 763h3v24h-3zM389 763h3v24h-3zM393 763h3v23h-3zM397 763h3v22h-3zM401 763h3v21h-3zM405 763h3v19h-3zM409 763h3v17h-3zM413 763h3v15h-3zM417 763h3v14h-3zM421 763h3v11h-3zM425 763h3v9h-3zM429 763h3v8h-3zM433 763h3v6h-3zM437 763h3v4h-3zM441 763h3v1h-3zM445 763h3v6h-3zM449 763h3v9h-3zM453 763h3v9h-3zM457 763h3v6h-3zM461 763h3v5h-3zM465 763h3v4h-3zM469 763h3v2h-3zM473 763h3v1h-3zM477 763h3v1h-3zM481 763h3v1h-3zM485 762h3v1h-3zM489 761h3v2h-3zM493 760h3v3h-3zM497 761h3v2h-3zM501 763h3v1h-3zM505 763h3v1h-3zM509 763h3v1h-3zM513 763h3v1h-3zM517 760h3v3h-3zM521 758h3v5h-3zM525 756h3v7h-3zM529 754h3v9h-3zM533 750h3v13h-3zM537 740h3v23h-3zM541 731h3v32h-3zM545 727h3v36h-3zM549 722h3v41h-3zM553 718h3v45h-3zM557 713h3v50h-3zM561 709h3v54h-3zM565 705h3v58h-3zM569 702h3v61h-3zM573 701h3v62h-3zM577 701h3v62h-3zM581 703h3v60h-3zM585 708h3v55h-3zM589 709h3v54h-3zM593 711h3v52h-3zM597 714h3v49h-3zM601 717h3v46h-3zM605 719h3v44h-3zM609 721h3v42h-3zM613 723h3v40h-3zM617 726h3v37h-3zM621 733h3v30h-3zM625 737h3v26h-3zM629 742h3v21h-3zM633 744h3v19h-3zM637 744h3v19h-3zM641 743h3v20h-3zM645 742h3v21h-3zM649 742h3v21h-3zM653 742h3v21h-3zM657 743h3v20h-3zM661 743h3v20h-3zM665 743h3v20h-3zM669 744h3v19h-3zM673 744h3v19h-3zM677 746h3v17h-3zM681 748h3v15h-3zM685 750h3v13h-3zM689 751h3v12h-3zM693 753h3v10h-3zM697 753h3v10h-3zM701 750h3v13h-3zM705 744h3v19h-3zM709 740h3v23h-3zM713 736h3v27h-3zM717 732h3v31h-3zM721 729h3v34h-3zM725 726h3v37h-3zM729 727h3v36h-3zM733 733h3v30h-3zM737 738h3v25h-3zM741 742h3v21h-3zM745 744h3v19h-3zM749 745h3v18h-3zM753 747h3v16h-3zM757 748h3v15h-3zM761 750h3v13h-3zM765 751h3v12h-3zM769 751h3v12h-3zM773 750h3v13h-3zM777 750h3v13h-3zM781 751h3v12h-3zM785 752h3v11h-3zM789 753h3v10h-3zM793 756h3v7h-3zM797 759h3v4h-3zM801 763h3v1h-3zM805 763h3v2h-3zM809 763h3v2h-3zM813 763h3v2h-3zM817 763h3v5h-3zM821 763h3v8h-3zM825 763h3v8h-3zM829 763h3v8h-3zM833 763h3v7h-3zM837 763h3v4h-3zM841 763h3v3h-3zM845 763h3v2h-3zM849 763h3v1h-3zM853 762h3v1h-3zM857 761h3v2h-3zM861 763h3v1h-3zM865 763h3v4h-3zM869 763h3v7h-3zM873 763h3v9h-3zM877 763h3v9h-3zM881 763h3v8h-3zM885 763h3v8h-3zM889 763h3v8h-3zM893 763h3v8h-3zM897 763h3v8h-3zM901 763h3v10h-3zM905 763h3v11h-3zM909 763h3v16h-3zM913 763h3v23h-3zM917 763h3v28h-3zM921 763h3v30h-3zM925 763h3v33h-3zM929 763h3v34h-3zM933 763h3v35h-3zM937 763h3v34h-3zM941 763h3v33h-3zM945 763h3v30h-3zM949 763h3v28h-3zM953 763h3v25h-3zM957 763h3v23h-3zM961 763h3v20h-3zM965 763h3v17h-3zM969 763h3v15h-3zM973 763h3v13h-3zM977 763h3v11h-3zM981 763h3v8h-3zM985 763h3v5h-3zM989 763h3v2h-3zM993 761h3v2h-3zM997 759h3v4h-3zM1001 759h3v4h-3zM1005 754h3v9h-3zM1009 751h3v12h-3zM1013 748h3v15h-3zM1017 746h3v17h-3zM1021 745h3v18h-3zM1025 743h3v20h-3zM1029 742h3v21h-3zM1033 741h3v22h-3zM1037 740h3v23h-3zM1041 740h3v23h-3zM1045 740h3v23h-3zM1049 741h3v22h-3zM1053 743h3v20h-3zM1057 744h3v19h-3zM1061 746h3v17h-3zM1065 745h3v18h-3zM1069 743h3v20h-3zM1073 740h3v23h-3zM1077 737h3v26h-3zM1081 736h3v27h-3zM1085 734h3v29h-3zM1089 735h3v28h-3zM1093 738h3v25h-3zM1097 741h3v22h-3zM1101 743h3v20h-3zM1105 744h3v19h-3zM1109 746h3v17h-3zM1113 748h3v15h-3zM1117 749h3v14h-3zM1121 750h3v13h-3zM1125 751h3v12h-3zM1129 753h3v10h-3zM1133 755h3v8h-3zM1137 759h3v4h-3zM1141 762h3v1h-3zM1145 763h3v2h-3zM1149 763h3v4h-3zM1153 763h3v4h-3zM1157 763h3v3h-3zM1161 763h3v6h-3zM1165 763h3v6h-3zM1169 763h3v6h-3zM1173 763h3v7h-3zM1177 763h3v6h-3zM1181 763h3v6h-3zM1185 763h3v4h-3zM1189 763h3v4h-3zM1193 763h3v3h-3zM1197 763h3v2h-3zM1201 761h3v2h-3zM1205 757h3v6h-3zM1209 754h3v9h-3zM1213 751h3v12h-3zM1217 749h3v14h-3zM1221 748h3v15h-3zM1225 747h3v16h-3zM1229 750h3v13h-3zM1233 753h3v10h-3zM1237 754h3v9h-3zM1241 758h3v5h-3zM1245 763h3v1h-3zM1249 763h3v3h-3zM1253 763h3v5h-3zM1257 763h3v7h-3zM1261 763h3v8h-3zM1265 763h3v10h-3zM1269 763h3v13h-3zM1273 763h3v16h-3zM1277 763h3v15h-3zM1281 763h3v14h-3zM1285 763h3v14h-3zM1289 763h3v15h-3zM1293 763h3v15h-3zM1297 763h3v13h-3zM1301 763h3v12h-3zM1305 763h3v12h-3zM1309 763h3v11h-3zM1313 763h3v10h-3zM1317 763h3v7h-3zM1321 763h3v5h-3zM1325 763h3v3h-3zM1329 762h3v1h-3zM1333 760h3v3h-3zM1337 757h3v6h-3zM1341 756h3v7h-3zM1345 754h3v9h-3zM1349 754h3v9h-3zM1353 751h3v12h-3zM1357 750h3v13h-3z"/>
<polyline points="0.0,749.5 2.5,747.3 6.5,743.8 10.5,740.3 14.5,736.8 18.5,734.4 22.5,732.4 26.5,730.3 30.5,728.3 34.5,726.2 38.5,725.2 42.5,725.1 46.5,725.4 50.5,726.3 54.5,727.8 58.5,729.4 62.5,731.1 66.5,732.7 70.5,734.3 74.5,735.6 78.5,736.6 82.5,737.6 86.5,738.2 90.5,738.5 94.5,738.5 98.5,738.7 102.5,738.8 106.5,739.1 110.5,739.6 114.5,740.2 118.5,740.9 122.5,741.6 126.5,742.7 130.5,744.0 134.5,745.3 138.5,746.4 142.5,747.3 146.5,748.0 150.5,748.1 154.5,747.8 158.5,747.2 162.5,746.1 166.5,744.8 170.5,743.4 174.5,741.6 178.5,739.7 182.5,737.5 186.5,735.3 190.5,732.7 194.5,729.9 198.5,727.0 202.5,723.9 206.5,720.7 210.5,717.8 214.5,715.1 218.5,713.3 222.5,712.5 226.5,712.7 230.5,713.8 234.5,715.5 238.5,717.7 242.5,720.4 246.5,723.5 250.5,727.0 254.5,730.2 258.5,732.9 262.5,735.3 266.5,736.9 270.5,738.1 274.5,739.1 278.5,740.0 282.5,740.6 286.5,741.0 290.5,741.5 294.5,742.0 298.5,742.8 302.5,744.0 306.5,745.5 310.5,747.0 314.5,748.7 318.5,750.5 322.5,752.3 326.5,753.9 330.5,755.3 334.5,756.2 338.5,756.6 342.5,756.6 346.5,756.2 350.5,755.4 354.5,754.6 358.5,754.2 362.5,754.7 366.5,756.1 370.5,758.4 374.5,761.6 378.5,765.3 382.5,769.3 386.5,773.5 390.5,777.6 394.5,780.9 398.5,783.3 402.5,784.6 406.5,785.1 410.5,784.7 414.5,783.9 418.5,782.9 422.5,781.5 426.5,779.8 430.5,778.1 434.5,776.3 438.5,774.4 442.5,772.4 446.5,771.2 450.5,770.5 454.5,769.9 458.5,769.4 462.5,769.0 466.5,768.5 470.5,768.1 474.5,767.7 478.5,767.7 482.5,767.2 486.5,766.1 490.5,764.9 494.5,763.9 498.5,763.1 502.5,762.6 506.5,762.5 510.5,762.5 514.5,762.5 518.5,762.1 522.5,761.7 526.5,761.1 530.5,760.5 534.5,759.2 538.5,756.7 542.5,753.0 546.5,748.9 550.5,744.3 554.5,739.6 558.5,734.6 562.5,729.4 566.5,723.9 570.5,718.6 574.5,714.3 578.5,710.9 582.5,708.2 586.5,706.7 590.5,705.7 594.5,705.5 598.5,706.0 602.5,707.4 606.5,709.2 610.5,711.5 614.5,713.9 618.5,716.5 622.5,719.3 626.5,722.4 630.5,725.8 634.5,729.2 638.5,732.2 642.5,734.8 646.5,737.2 650.5,739.3 654.5,741.1 658.5,742.2 662.5,742.8 666.5,742.9 670.5,742.9 674.5,742.9 678.5,743.2 682.5,743.9 686.5,744.8 690.5,745.8 694.5,746.9 698.5,748.0 702.5,748.8 706.5,748.8 710.5,748.4 714.5,747.3 718.5,745.5 722.5,743.2 726.5,740.4 730.5,737.5 734.5,735.3 738.5,733.9 742.5,733.7 746.5,734.2 750.5,735.2 754.5,736.8 758.5,738.9 762.5,741.6 766.5,744.3 770.5,746.3 774.5,747.6 778.5,748.5 782.5,749.3 786.5,750.0 790.5,750.7 794.5,751.6 798.5,752.6 802.5,754.1 806.5,755.6 810.5,757.3 814.5,758.9 818.5,760.8 822.5,762.9 826.5,764.9 830.5,766.5 834.5,767.7 838.5,768.0 842.5,768.2 846.5,768.2 850.5,768.1 854.5,767.4 858.5,766.3 862.5,765.5 866.5,765.1 870.5,765.1 874.5,765.7 878.5,766.3 882.5,767.0 886.5,767.7 890.5,768.7 894.5,769.8 898.5,770.6 902.5,771.3 906.5,771.7 910.5,772.5 914.5,774.0 918.5,776.3 922.5,778.7 926.5,781.5 930.5,784.4 934.5,787.4 938.5,790.1 942.5,792.5 946.5,794.1 950.5,794.6 954.5,794.3 958.5,793.5 962.5,792.1 966.5,790.2 970.5,788.0 974.5,785.7 978.5,783.2 982.5,780.8 986.5,778.2 990.5,775.7 994.5,772.9 998.5,770.2 1002.5,767.9 1006.5,765.2 1010.5,762.4 1014.5,759.6 1018.5,756.8 1022.5,754.2 1026.5,751.8 1030.5,749.7 1034.5,747.7 1038.5,745.6 1042.5,744.0 1046.5,742.7 1050.5,742.0 1054.5,741.6 1058.5,741.5 1062.5,741.9 1066.5,742.2 1070.5,742.4 1074.5,742.4 1078.5,742.1 1082.5,741.7 1086.5,740.9 1090.5,740.0 1094.5,739.3 1098.5,738.8 1102.5,738.6 1106.5,738.7 1110.5,739.4 1114.5,740.6 1118.5,742.0 1122.5,743.8 1126.5,745.6 1130.5,747.3 1134.5,748.8 1138.5,750.6 1142.5,752.6 1146.5,754.7 1150.5,756.8 1154.5,758.8 1158.5,760.6 1162.5,762.5 1166.5,764.3 1170.5,765.9 1174.5,767.1 1178.5,767.9 1182.5,768.3 1186.5,768.3 1190.5,768.3 1194.5,768.3 1198.5,767.9 1202.5,767.0 1206.5,765.7 1210.5,763.9 1214.5,761.9 1218.5,759.7 1222.5,757.6 1226.5,755.3 1230.5,753.6 1234.5,752.3 1238.5,751.5 1242.5,751.6 1246.5,752.7 1250.5,754.3 1254.5,756.5 1258.5,758.9 1262.5,761.6 1266.5,764.1 1270.5,766.7 1274.5,769.4 1278.5,771.7 1282.5,773.1 1286.5,774.3 1290.5,775.5 1294.5,776.4 1298.5,776.9 1302.5,777.2 1306.5,777.1 1310.5,776.5 1314.5,775.9 1318.5,775.1 1322.5,774.1 1326.5,772.8 1330.5,771.0 1334.5,769.2 1338.5,767.2 1342.5,765.1 1346.5,762.9 1350.5,760.8 1354.5,758.7 1358.5,756.7" fill="none" stroke="#ee3048" stroke-width="1" shape-rendering="crispEdges"/>
<g fill="#f2f2f2" font-size="12.5px">
<text x="47" y="711" text-anchor="end">52 1.328</text>
<text x="1739" y="709">14.16</text>
<text x="1739" y="768">0.00</text>
<text x="1739" y="799">-8.282</text>
</g>
<path fill="#c8c8c8" shape-rendering="crispEdges" d="M1 818h3v1h-3zM7 818h3v1h-3zM13 818h3v1h-3zM19 818h3v1h-3zM25 818h3v1h-3zM31 818h3v1h-3zM37 818h3v1h-3zM43 818h3v1h-3zM49 818h3v1h-3zM55 818h3v1h-3zM61 818h3v1h-3zM67 818h3v1h-3zM73 818h3v1h-3zM79 818h3v1h-3zM85 818h3v1h-3zM91 818h3v1h-3zM97 818h3v1h-3zM103 818h3v1h-3zM109 818h3v1h-3zM115 818h3v1h-3zM121 818h3v1h-3zM127 818h3v1h-3zM133 818h3v1h-3zM139 818h3v1h-3zM145 818h3v1h-3zM151 818h3v1h-3zM157 818h3v1h-3zM163 818h3v1h-3zM169 818h3v1h-3zM175 818h3v1h-3zM181 818h3v1h-3zM187 818h3v1h-3zM193 818h3v1h-3zM199 818h3v1h-3zM205 818h3v1h-3zM211 818h3v1h-3zM217 818h3v1h-3zM223 818h3v1h-3zM229 818h3v1h-3zM235 818h3v1h-3zM241 818h3v1h-3zM247 818h3v1h-3zM253 818h3v1h-3zM259 818h3v1h-3zM265 818h3v1h-3zM271 818h3v1h-3zM277 818h3v1h-3zM283 818h3v1h-3zM289 818h3v1h-3zM295 818h3v1h-3zM301 818h3v1h-3zM307 818h3v1h-3zM313 818h3v1h-3zM319 818h3v1h-3zM325 818h3v1h-3zM331 818h3v1h-3zM337 818h3v1h-3zM343 818h3v1h-3zM349 818h3v1h-3zM355 818h3v1h-3zM361 818h3v1h-3zM367 818h3v1h-3zM373 818h3v1h-3zM379 818h3v1h-3zM385 818h3v1h-3zM391 818h3v1h-3zM397 818h3v1h-3zM403 818h3v1h-3zM409 818h3v1h-3zM415 818h3v1h-3zM421 818h3v1h-3zM427 818h3v1h-3zM433 818h3v1h-3zM439 818h3v1h-3zM445 818h3v1h-3zM451 818h3v1h-3zM457 818h3v1h-3zM463 818h3v1h-3zM469 818h3v1h-3zM475 818h3v1h-3zM481 818h3v1h-3zM487 818h3v1h-3zM493 818h3v1h-3zM499 818h3v1h-3zM505 818h3v1h-3zM511 818h3v1h-3zM517 818h3v1h-3zM523 818h3v1h-3zM529 818h3v1h-3zM535 818h3v1h-3zM541 818h3v1h-3zM547 818h3v1h-3zM553 818h3v1h-3zM559 818h3v1h-3zM565 818h3v1h-3zM571 818h3v1h-3zM577 818h3v1h-3zM583 818h3v1h-3zM589 818h3v1h-3zM595 818h3v1h-3zM601 818h3v1h-3zM607 818h3v1h-3zM613 818h3v1h-3zM619 818h3v1h-3zM625 818h3v1h-3zM631 818h3v1h-3zM637 818h3v1h-3zM643 818h3v1h-3zM649 818h3v1h-3zM655 818h3v1h-3zM661 818h3v1h-3zM667 818h3v1h-3zM673 818h3v1h-3zM679 818h3v1h-3zM685 818h3v1h-3zM691 818h3v1h-3zM697 818h3v1h-3zM703 818h3v1h-3zM709 818h3v1h-3zM715 818h3v1h-3zM721 818h3v1h-3zM727 818h3v1h-3zM733 818h3v1h-3zM739 818h3v1h-3zM745 818h3v1h-3zM751 818h3v1h-3zM757 818h3v1h-3zM763 818h3v1h-3zM769 818h3v1h-3zM775 818h3v1h-3zM781 818h3v1h-3zM787 818h3v1h-3zM793 818h3v1h-3zM799 818h3v1h-3zM805 818h3v1h-3zM811 818h3v1h-3zM817 818h3v1h-3zM823 818h3v1h-3zM829 818h3v1h-3zM835 818h3v1h-3zM841 818h3v1h-3zM847 818h3v1h-3zM853 818h3v1h-3zM859 818h3v1h-3zM865 818h3v1h-3zM871 818h3v1h-3zM877 818h3v1h-3zM883 818h3v1h-3zM889 818h3v1h-3zM895 818h3v1h-3zM901 818h3v1h-3zM907 818h3v1h-3zM913 818h3v1h-3zM919 818h3v1h-3zM925 818h3v1h-3zM931 818h3v1h-3zM937 818h3v1h-3zM943 818h3v1h-3zM949 818h3v1h-3zM955 818h3v1h-3zM961 818h3v1h-3zM967 818h3v1h-3zM973 818h3v1h-3zM979 818h3v1h-3zM985 818h3v1h-3zM991 818h3v1h-3zM997 818h3v1h-3zM1003 818h3v1h-3zM1009 818h3v1h-3zM1015 818h3v1h-3zM1021 818h3v1h-3zM1027 818h3v1h-3zM1033 818h3v1h-3zM1039 818h3v1h-3zM1045 818h3v1h-3zM1051 818h3v1h-3zM1057 818h3v1h-3zM1063 818h3v1h-3zM1069 818h3v1h-3zM1075 818h3v1h-3zM1081 818h3v1h-3zM1087 818h3v1h-3zM1093 818h3v1h-3zM1099 818h3v1h-3zM1105 818h3v1h-3zM1111 818h3v1h-3zM1117 818h3v1h-3zM1123 818h3v1h-3zM1129 818h3v1h-3zM1135 818h3v1h-3zM1141 818h3v1h-3zM1147 818h3v1h-3zM1153 818h3v1h-3zM1159 818h3v1h-3zM1165 818h3v1h-3zM1171 818h3v1h-3zM1177 818h3v1h-3zM1183 818h3v1h-3zM1189 818h3v1h-3zM1195 818h3v1h-3zM1201 818h3v1h-3zM1207 818h3v1h-3zM1213 818h3v1h-3zM1219 818h3v1h-3zM1225 818h3v1h-3zM1231 818h3v1h-3zM1237 818h3v1h-3zM1243 818h3v1h-3zM1249 818h3v1h-3zM1255 818h3v1h-3zM1261 818h3v1h-3zM1267 818h3v1h-3zM1273 818h3v1h-3zM1279 818h3v1h-3zM1285 818h3v1h-3zM1291 818h3v1h-3zM1297 818h3v1h-3zM1303 818h3v1h-3zM1309 818h3v1h-3zM1315 818h3v1h-3zM1321 818h3v1h-3zM1327 818h3v1h-3zM1333 818h3v1h-3zM1339 818h3v1h-3zM1345 818h3v1h-3zM1351 818h3v1h-3zM1357 818h3v1h-3zM1363 818h3v1h-3zM1369 818h3v1h-3zM1375 818h3v1h-3zM1381 818h3v1h-3zM1387 818h3v1h-3zM1393 818h3v1h-3zM1399 818h3v1h-3zM1405 818h3v1h-3zM1411 818h3v1h-3zM1417 818h3v1h-3zM1423 818h3v1h-3zM1429 818h3v1h-3zM1435 818h3v1h-3zM1441 818h3v1h-3zM1447 818h3v1h-3zM1453 818h3v1h-3zM1459 818h3v1h-3zM1465 818h3v1h-3zM1471 818h3v1h-3zM1477 818h3v1h-3zM1483 818h3v1h-3zM1489 818h3v1h-3zM1495 818h3v1h-3zM1501 818h3v1h-3zM1507 818h3v1h-3zM1513 818h3v1h-3zM1519 818h3v1h-3zM1525 818h3v1h-3zM1531 818h3v1h-3zM1537 818h3v1h-3zM1543 818h3v1h-3zM1549 818h3v1h-3zM1555 818h3v1h-3zM1561 818h3v1h-3zM1567 818h3v1h-3zM1573 818h3v1h-3zM1579 818h3v1h-3zM1585 818h3v1h-3zM1591 818h3v1h-3zM1597 818h3v1h-3zM1603 818h3v1h-3zM1609 818h3v1h-3zM1615 818h3v1h-3zM1621 818h3v1h-3zM1627 818h3v1h-3zM1633 818h3v1h-3zM1639 818h3v1h-3zM1645 818h3v1h-3zM1651 818h3v1h-3zM1657 818h3v1h-3zM1663 818h3v1h-3zM1669 818h3v1h-3zM1675 818h3v1h-3zM1681 818h3v1h-3zM1687 818h3v1h-3zM1693 818h3v1h-3zM1699 818h3v1h-3zM1705 818h3v1h-3zM1711 818h3v1h-3zM1717 818h3v1h-3zM1723 818h3v1h-3zM1729 818h3v1h-3zM1 835h3v1h-3zM7 835h3v1h-3zM13 835h3v1h-3zM19 835h3v1h-3zM25 835h3v1h-3zM31 835h3v1h-3zM37 835h3v1h-3zM43 835h3v1h-3zM49 835h3v1h-3zM55 835h3v1h-3zM61 835h3v1h-3zM67 835h3v1h-3zM73 835h3v1h-3zM79 835h3v1h-3zM85 835h3v1h-3zM91 835h3v1h-3zM97 835h3v1h-3zM103 835h3v1h-3zM109 835h3v1h-3zM115 835h3v1h-3zM121 835h3v1h-3zM127 835h3v1h-3zM133 835h3v1h-3zM139 835h3v1h-3zM145 835h3v1h-3zM151 835h3v1h-3zM157 835h3v1h-3zM163 835h3v1h-3zM169 835h3v1h-3zM175 835h3v1h-3zM181 835h3v1h-3zM187 835h3v1h-3zM193 835h3v1h-3zM199 835h3v1h-3zM205 835h3v1h-3zM211 835h3v1h-3zM217 835h3v1h-3zM223 835h3v1h-3zM229 835h3v1h-3zM235 835h3v1h-3zM241 835h3v1h-3zM247 835h3v1h-3zM253 835h3v1h-3zM259 835h3v1h-3zM265 835h3v1h-3zM271 835h3v1h-3zM277 835h3v1h-3zM283 835h3v1h-3zM289 835h3v1h-3zM295 835h3v1h-3zM301 835h3v1h-3zM307 835h3v1h-3zM313 835h3v1h-3zM319 835h3v1h-3zM325 835h3v1h-3zM331 835h3v1h-3zM337 835h3v1h-3zM343 835h3v1h-3zM349 835h3v1h-3zM355 835h3v1h-3zM361 835h3v1h-3zM367 835h3v1h-3zM373 835h3v1h-3zM379 835h3v1h-3zM385 835h3v1h-3zM391 835h3v1h-3zM397 835h3v1h-3zM403 835h3v1h-3zM409 835h3v1h-3zM415 835h3v1h-3zM421 835h3v1h-3zM427 835h3v1h-3zM433 835h3v1h-3zM439 835h3v1h-3zM445 835h3v1h-3zM451 835h3v1h-3zM457 835h3v1h-3zM463 835h3v1h-3zM469 835h3v1h-3zM475 835h3v1h-3zM481 835h3v1h-3zM487 835h3v1h-3zM493 835h3v1h-3zM499 835h3v1h-3zM505 835h3v1h-3zM511 835h3v1h-3zM517 835h3v1h-3zM523 835h3v1h-3zM529 835h3v1h-3zM535 835h3v1h-3zM541 835h3v1h-3zM547 835h3v1h-3zM553 835h3v1h-3zM559 835h3v1h-3zM565 835h3v1h-3zM571 835h3v1h-3zM577 835h3v1h-3zM583 835h3v1h-3zM589 835h3v1h-3zM595 835h3v1h-3zM601 835h3v1h-3zM607 835h3v1h-3zM613 835h3v1h-3zM619 835h3v1h-3zM625 835h3v1h-3zM631 835h3v1h-3zM637 835h3v1h-3zM643 835h3v1h-3zM649 835h3v1h-3zM655 835h3v1h-3zM661 835h3v1h-3zM667 835h3v1h-3zM673 835h3v1h-3zM679 835h3v1h-3zM685 835h3v1h-3zM691 835h3v1h-3zM697 835h3v1h-3zM703 835h3v1h-3zM709 835h3v1h-3zM715 835h3v1h-3zM721 835h3v1h-3zM727 835h3v1h-3zM733 835h3v1h-3zM739 835h3v1h-3zM745 835h3v1h-3zM751 835h3v1h-3zM757 835h3v1h-3zM763 835h3v1h-3zM769 835h3v1h-3zM775 835h3v1h-3zM781 835h3v1h-3zM787 835h3v1h-3zM793 835h3v1h-3zM799 835h3v1h-3zM805 835h3v1h-3zM811 835h3v1h-3zM817 835h3v1h-3zM823 835h3v1h-3zM829 835h3v1h-3zM835 835h3v1h-3zM841 835h3v1h-3zM847 835h3v1h-3zM853 835h3v1h-3zM859 835h3v1h-3zM865 835h3v1h-3zM871 835h3v1h-3zM877 835h3v1h-3zM883 835h3v1h-3zM889 835h3v1h-3zM895 835h3v1h-3zM901 835h3v1h-3zM907 835h3v1h-3zM913 835h3v1h-3zM919 835h3v1h-3zM925 835h3v1h-3zM931 835h3v1h-3zM937 835h3v1h-3zM943 835h3v1h-3zM949 835h3v1h-3zM955 835h3v1h-3zM961 835h3v1h-3zM967 835h3v1h-3zM973 835h3v1h-3zM979 835h3v1h-3zM985 835h3v1h-3zM991 835h3v1h-3zM997 835h3v1h-3zM1003 835h3v1h-3zM1009 835h3v1h-3zM1015 835h3v1h-3zM1021 835h3v1h-3zM1027 835h3v1h-3zM1033 835h3v1h-3zM1039 835h3v1h-3zM1045 835h3v1h-3zM1051 835h3v1h-3zM1057 835h3v1h-3zM1063 835h3v1h-3zM1069 835h3v1h-3zM1075 835h3v1h-3zM1081 835h3v1h-3zM1087 835h3v1h-3zM1093 835h3v1h-3zM1099 835h3v1h-3zM1105 835h3v1h-3zM1111 835h3v1h-3zM1117 835h3v1h-3zM1123 835h3v1h-3zM1129 835h3v1h-3zM1135 835h3v1h-3zM1141 835h3v1h-3zM1147 835h3v1h-3zM1153 835h3v1h-3zM1159 835h3v1h-3zM1165 835h3v1h-3zM1171 835h3v1h-3zM1177 835h3v1h-3zM1183 835h3v1h-3zM1189 835h3v1h-3zM1195 835h3v1h-3zM1201 835h3v1h-3zM1207 835h3v1h-3zM1213 835h3v1h-3zM1219 835h3v1h-3zM1225 835h3v1h-3zM1231 835h3v1h-3zM1237 835h3v1h-3zM1243 835h3v1h-3zM1249 835h3v1h-3zM1255 835h3v1h-3zM1261 835h3v1h-3zM1267 835h3v1h-3zM1273 835h3v1h-3zM1279 835h3v1h-3zM1285 835h3v1h-3zM1291 835h3v1h-3zM1297 835h3v1h-3zM1303 835h3v1h-3zM1309 835h3v1h-3zM1315 835h3v1h-3zM1321 835h3v1h-3zM1327 835h3v1h-3zM1333 835h3v1h-3zM1339 835h3v1h-3zM1345 835h3v1h-3zM1351 835h3v1h-3zM1357 835h3v1h-3zM1363 835h3v1h-3zM1369 835h3v1h-3zM1375 835h3v1h-3zM1381 835h3v1h-3zM1387 835h3v1h-3zM1393 835h3v1h-3zM1399 835h3v1h-3zM1405 835h3v1h-3zM1411 835h3v1h-3zM1417 835h3v1h-3zM1423 835h3v1h-3zM1429 835h3v1h-3zM1435 835h3v1h-3zM1441 835h3v1h-3zM1447 835h3v1h-3zM1453 835h3v1h-3zM1459 835h3v1h-3zM1465 835h3v1h-3zM1471 835h3v1h-3zM1477 835h3v1h-3zM1483 835h3v1h-3zM1489 835h3v1h-3zM1495 835h3v1h-3zM1501 835h3v1h-3zM1507 835h3v1h-3zM1513 835h3v1h-3zM1519 835h3v1h-3zM1525 835h3v1h-3zM1531 835h3v1h-3zM1537 835h3v1h-3zM1543 835h3v1h-3zM1549 835h3v1h-3zM1555 835h3v1h-3zM1561 835h3v1h-3zM1567 835h3v1h-3zM1573 835h3v1h-3zM1579 835h3v1h-3zM1585 835h3v1h-3zM1591 835h3v1h-3zM1597 835h3v1h-3zM1603 835h3v1h-3zM1609 835h3v1h-3zM1615 835h3v1h-3zM1621 835h3v1h-3zM1627 835h3v1h-3zM1633 835h3v1h-3zM1639 835h3v1h-3zM1645 835h3v1h-3zM1651 835h3v1h-3zM1657 835h3v1h-3zM1663 835h3v1h-3zM1669 835h3v1h-3zM1675 835h3v1h-3zM1681 835h3v1h-3zM1687 835h3v1h-3zM1693 835h3v1h-3zM1699 835h3v1h-3zM1705 835h3v1h-3zM1711 835h3v1h-3zM1717 835h3v1h-3zM1723 835h3v1h-3zM1729 835h3v1h-3z"/>
<polyline points="2.5,818.1 6.5,817.4 10.5,817.4 14.5,817.4 18.5,816.2 22.5,817.1 26.5,818.4 30.5,818.4 34.5,817.4 38.5,821.2 42.5,822.5 46.5,821.3 50.5,825.4 54.5,823.3 58.5,822.5 62.5,822.5 66.5,822.5 70.5,820.1 74.5,822.5 78.5,821.3 82.5,823.5 86.5,822.5 90.5,821.3 94.5,820.1 98.5,822.2 102.5,823.5 106.5,823.5 110.5,822.2 114.5,823.3 118.5,824.3 122.5,824.3 126.5,826.3 130.5,826.3 134.5,824.3 138.5,822.5 142.5,821.3 146.5,820.1 150.5,818.4 154.5,818.4 158.5,818.4 162.5,817.4 166.5,819.7 170.5,818.4 174.5,815.8 178.5,816.2 182.5,814.5 186.5,813.3 190.5,813.3 194.5,812.4 198.5,812.4 202.5,812.4 206.5,811.3 210.5,811.3 214.5,815.2 218.5,819.0 222.5,823.5 226.5,822.5 230.5,823.3 234.5,822.5 238.5,822.5 242.5,822.5 246.5,824.3 250.5,824.5 254.5,823.3 258.5,821.3 262.5,820.1 266.5,818.4 270.5,820.1 274.5,822.5 278.5,821.3 282.5,823.3 286.5,823.3 290.5,823.3 294.5,825.4 298.5,825.4 302.5,826.5 306.5,825.4 310.5,825.4 314.5,829.5 318.5,828.4 322.5,828.4 326.5,827.4 330.5,823.3 334.5,820.9 338.5,819.0 342.5,821.3 346.5,820.1 350.5,820.1 354.5,825.4 358.5,831.2 362.5,834.2 366.5,836.6 370.5,835.3 374.5,836.6 378.5,832.5 382.5,832.5 386.5,832.5 390.5,832.5 394.5,831.2 398.5,830.3 402.5,830.3 406.5,829.3 410.5,828.4 414.5,828.4 418.5,828.4 422.5,826.3 426.5,826.3 430.5,826.3 434.5,825.1 438.5,824.2 442.5,821.3 446.5,833.4 450.5,831.5 454.5,827.4 458.5,825.4 462.5,826.5 466.5,826.5 470.5,825.4 474.5,826.5 478.5,826.5 482.5,827.4 486.5,825.4 490.5,825.4 494.5,826.5 498.5,827.4 502.5,828.4 506.5,828.4 510.5,826.5 514.5,827.4 518.5,823.3 522.5,823.3 526.5,822.2 530.5,822.2 534.5,818.4 538.5,814.5 542.5,814.5 546.5,818.4 550.5,817.4 554.5,816.2 558.5,815.4 562.5,815.4 566.5,814.5 570.5,814.5 574.5,816.2 578.5,816.2 582.5,817.4 586.5,820.3 590.5,819.3 594.5,819.3 598.5,821.3 602.5,820.3 606.5,820.3 610.5,820.3 614.5,820.3 618.5,822.2 622.5,828.6 626.5,825.4 630.5,827.4 634.5,825.4 638.5,823.3 642.5,822.2 646.5,821.3 650.5,823.3 654.5,822.2 658.5,822.2 662.5,823.3 666.5,823.3 670.5,823.3 674.5,822.2 678.5,824.2 682.5,826.5 686.5,825.4 690.5,825.4 694.5,826.5 698.5,824.2 702.5,819.3 706.5,817.4 710.5,817.4 714.5,817.4 718.5,816.2 722.5,816.2 726.5,815.4 730.5,818.4 734.5,827.4 738.5,827.4 742.5,826.5 746.5,825.4 750.5,824.5 754.5,825.4 758.5,825.4 762.5,826.5 766.5,825.4 770.5,824.2 774.5,822.2 778.5,824.2 782.5,825.4 786.5,825.4 790.5,826.5 794.5,829.3 798.5,830.3 802.5,831.5 806.5,828.4 810.5,827.4 814.5,827.4 818.5,831.2 822.5,832.5 826.5,827.4 830.5,828.4 834.5,827.4 838.5,824.2 842.5,826.5 846.5,826.5 850.5,825.4 854.5,826.5 858.5,825.4 862.5,828.4 866.5,831.5 870.5,831.5 874.5,831.5 878.5,828.4 882.5,827.4 886.5,828.4 890.5,829.3 894.5,827.4 898.5,828.4 902.5,831.5 906.5,830.3 910.5,834.8 914.5,837.4 918.5,836.3 922.5,834.4 926.5,835.4 930.5,835.4 934.5,834.4 938.5,833.4 942.5,833.4 946.5,831.2 950.5,829.3 954.5,829.3 958.5,829.3 962.5,827.4 966.5,827.4 970.5,828.4 974.5,827.4 978.5,827.4 982.5,823.3 986.5,823.3 990.5,823.3 994.5,822.2 998.5,822.2 1002.5,824.5 1006.5,819.3 1010.5,819.3 1014.5,818.4 1018.5,818.4 1022.5,819.3 1026.5,819.3 1030.5,818.4 1034.5,818.4 1038.5,816.2 1042.5,819.3 1046.5,819.3 1050.5,821.3 1054.5,823.3 1058.5,823.3 1062.5,823.3 1066.5,820.3 1070.5,817.4 1074.5,816.2 1078.5,815.4 1082.5,816.2 1086.5,815.4 1090.5,818.4 1094.5,825.4 1098.5,824.5 1102.5,825.4 1106.5,823.3 1110.5,824.5 1114.5,825.4 1118.5,824.5 1122.5,824.5 1126.5,825.4 1130.5,826.5 1134.5,828.4 1138.5,830.3 1142.5,831.5 1146.5,831.5 1150.5,832.5 1154.5,826.5 1158.5,826.5 1162.5,831.2 1166.5,827.4 1170.5,829.3 1174.5,828.4 1178.5,827.4 1182.5,828.4 1186.5,826.5 1190.5,825.4 1194.5,827.4 1198.5,825.4 1202.5,822.5 1206.5,821.3 1210.5,820.3 1214.5,821.3 1218.5,820.3 1222.5,821.3 1226.5,821.3 1230.5,827.4 1234.5,827.4 1238.5,827.4 1242.5,829.3 1246.5,833.4 1250.5,831.2 1254.5,830.3 1258.5,831.2 1262.5,829.3 1266.5,831.2 1270.5,833.4 1274.5,833.4 1278.5,829.3 1282.5,829.3 1286.5,829.3 1290.5,831.2 1294.5,829.3 1298.5,827.4 1302.5,828.4 1306.5,829.3 1310.5,828.4 1314.5,827.4 1318.5,825.4 1322.5,824.2 1326.5,824.2 1330.5,822.2 1334.5,823.3 1338.5,821.3 1342.5,823.3 1346.5,822.2 1350.5,823.3 1354.5,820.3 1358.5,821.3" fill="none" stroke="#2a5cff" stroke-width="1" shape-rendering="crispEdges"/>
<g fill="#f2f2f2" font-size="12.5px">
<text x="1740" y="818">100</text>
<text x="1739" y="823">70</text>
<text x="1739" y="840">30</text>
<text x="1740" y="847">0</text>
</g>
<g fill="none" stroke-linecap="butt" stroke-linejoin="miter">
<polyline points="1376.6,109.7 1422.9,278 1491.8,134.9" stroke="#ff1a1a" stroke-width="3" stroke-linejoin="bevel"/>
<polyline points="1478.7,147.7 1491.5,136 1492.2,154.3" stroke="#ff1a1a" stroke-width="3" stroke-linejoin="bevel"/>
<line x1="1433.2" y1="72.7" x2="1453" y2="37.5" stroke="#ffffff" stroke-width="3"/>
<polyline points="1443.1,43.6 1452.8,37.6 1452.6,47.6" stroke="#ffffff" stroke-width="3" stroke-linejoin="bevel"/>
<line x1="1416" y1="340.1" x2="1437" y2="422" stroke="#ffffff" stroke-width="3"/>
<polyline points="1430.2,414.2 1437,421.8 1438.1,408.9" stroke="#ffffff" stroke-width="3" stroke-linejoin="bevel"/>
</g>
<g font-weight="bold" text-anchor="middle" stroke-linejoin="round">
<text x="447.5" y="42.6" font-size="27px" fill="#ffffff" stroke="#ffffff" stroke-width="0.9" letter-spacing="0.9">GOLD</text>
<text x="446.7" y="88.6" font-size="27px" fill="#ffffff" stroke="#ffffff" stroke-width="0.9" letter-spacing="2.3">H1 Chart</text>
<text x="1461.7" y="22" font-size="21.5px" fill="#1e90ff" stroke="#1e90ff" stroke-width="0.6" letter-spacing="0.8">2555</text>
<text x="1379.7" y="90" font-size="21.5px" fill="#ffffff" stroke="#ffffff" stroke-width="0.6" letter-spacing="0.8">2528-32</text>
<text x="1373.5" y="332" font-size="21.5px" fill="#ffffff" stroke="#ffffff" stroke-width="0.6" letter-spacing="0.8">2468-70</text>
<text x="1384.2" y="456" font-size="21.5px" fill="#1e90ff" stroke="#1e90ff" stroke-width="0.6" letter-spacing="0.8">2430-40</text>
</g>
</svg>
</body></html>
